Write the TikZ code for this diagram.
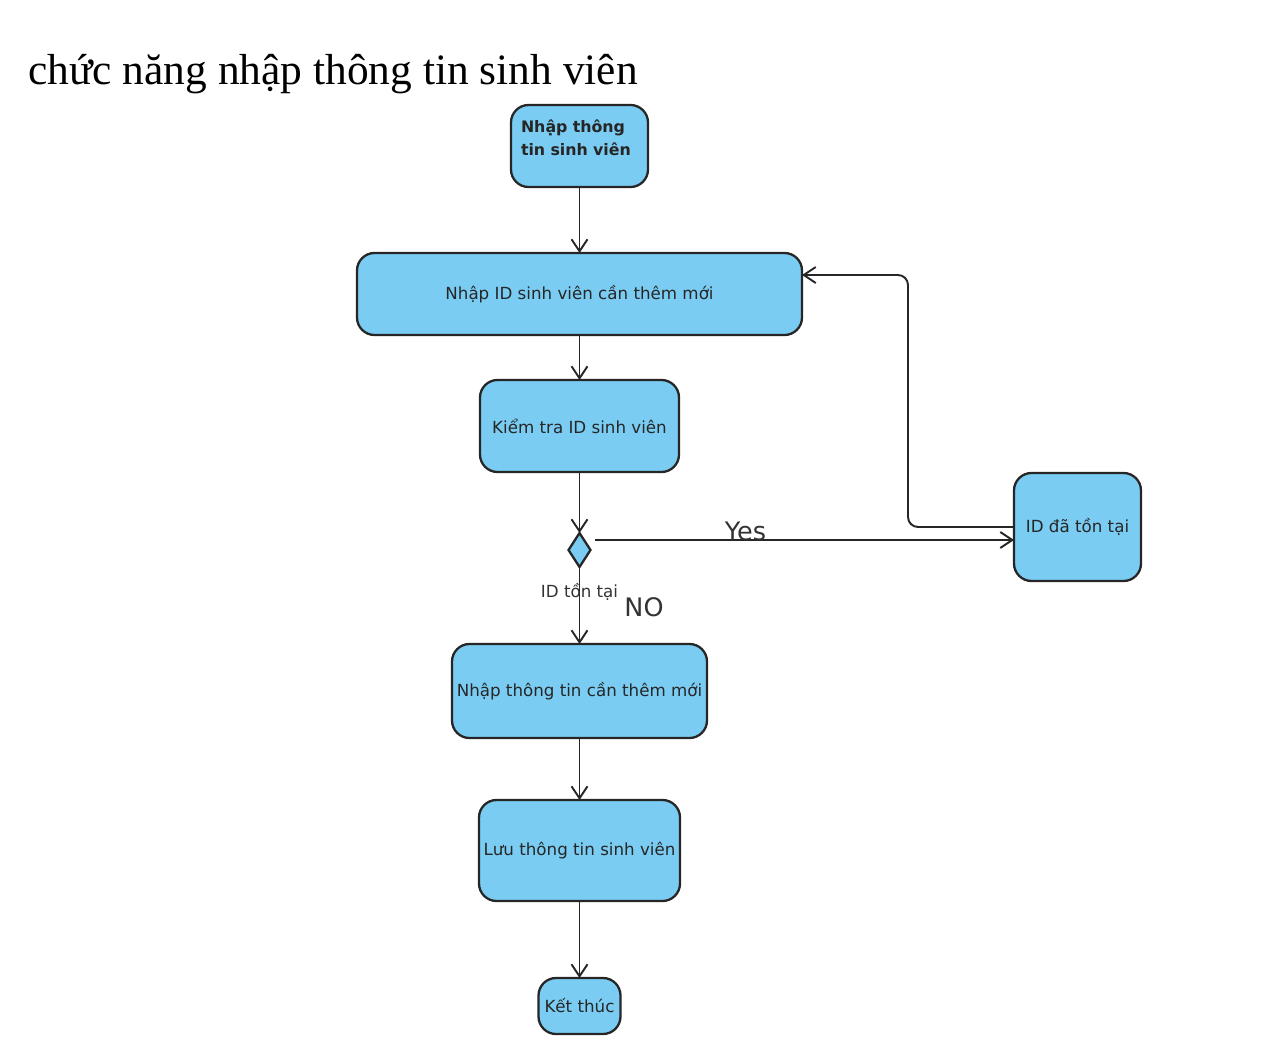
\documentclass[tikz,border=0pt]{standalone}
\usepackage{fontspec}
\setmainfont{Liberation Serif}
\newfontfamily\boxfont{DejaVu Sans}
\usetikzlibrary{arrows.meta,positioning,shapes.geometric}
\definecolor{activityblue}{RGB}{122,204,242}
\definecolor{linegray}{RGB}{38,38,38}
\tikzstyle{activity}=[
	rectangle,
	rounded corners=0.35cm,
	line width=1.3pt,
	draw=linegray,
	fill=activityblue,
	inner sep=0pt,
	outer sep=0pt,
	text=black!85,
	font=\boxfont\fontsize{9.5}{11}\selectfont
]
\tikzstyle{decision}=[
	diamond,
	line width=1.3pt,
	draw=linegray,
	fill=activityblue,
	inner sep=0pt,
	outer sep=0pt,
	minimum width=0.44cm,
	minimum height=0.68cm
]
\tikzstyle{flow}=[
	-{Straight Barb[length=0.24cm,width=0.32cm]},
	line width=1.1pt,
	draw=linegray
]
\tikzstyle{flowin}=[
	{Straight Barb[length=0.24cm,width=0.32cm]}-,
	line width=1.1pt,
	draw=linegray
]
\tikzstyle{guard}=[
	inner sep=0pt,
	text=black!80,
	font=\boxfont\fontsize{9.5}{11}\selectfont
]
\tikzstyle{guardbig}=[
	inner sep=0pt,
	text=black!80,
	font=\boxfont\fontsize{14.5}{16}\selectfont
]

\begin{document}
\begin{tikzpicture}
\useasboundingbox (0,0) rectangle (25.6,-20.84);
\node [anchor=base west, inner sep=0pt, font=\fontsize{24.7}{28}\selectfont] (Title) at (0.56,-1.70) {chức năng nhập thông tin sinh viên};
\node [activity, font=\boxfont\bfseries\fontsize{9}{13.2}\selectfont, text width=2.34cm, align=left, inner xsep=0.2cm, text height=0.54cm, text depth=1.10cm] (NhapThongTin) at (11.59,-2.92) {Nhập thông\\tin sinh viên};
\node [activity, minimum width=8.9cm, minimum height=1.64cm] (NhapID)[below=1.32cm of NhapThongTin] {Nhập ID sinh viên cần thêm mới}
	edge [flowin] (NhapThongTin);
\node [activity, minimum width=3.98cm, minimum height=1.84cm] (KiemTraID)[below=0.9cm of NhapID] {Kiểm tra ID sinh viên}
	edge [flowin] (NhapID);
\node [decision] (TonTai)[below=1.22cm of KiemTraID] {}
	edge [flowin] (KiemTraID);
\node [activity, minimum width=2.54cm, minimum height=2.16cm] (DaTonTai) at (21.55,-10.54) {ID đã tồn tại};
\node [activity, minimum width=5.1cm, minimum height=1.88cm] (NhapMoi)[below=1.54cm of TonTai] {Nhập thông tin cần thêm mới}
	edge [flowin] node [guard, pos=0.6, anchor=base] {ID tồn tại}
	node [guardbig, pos=0.36, anchor=base west, xshift=0.88cm] {NO} (TonTai);
\node [activity, minimum width=4.02cm, minimum height=2.02cm] (Luu)[below=1.24cm of NhapMoi] {Lưu thông tin sinh viên}
	edge [flowin] (NhapMoi);
\node [activity, minimum width=1.64cm, minimum height=1.12cm] (KetThuc)[below=1.54cm of Luu] {Kết thúc}
	edge [flowin] (Luu);
\draw [flow] ([xshift=0.08cm,yshift=0.2cm]TonTai.east) -- ([yshift=0.2cm]TonTai.east -| DaTonTai.west)
	node [guardbig, pos=0.36, anchor=base] {Yes};
\draw [flow, rounded corners=0.2cm] (DaTonTai.west) -- ++(-2.12,0) |- ([yshift=0.38cm]NhapID.east);
\end{tikzpicture}
\end{document}
